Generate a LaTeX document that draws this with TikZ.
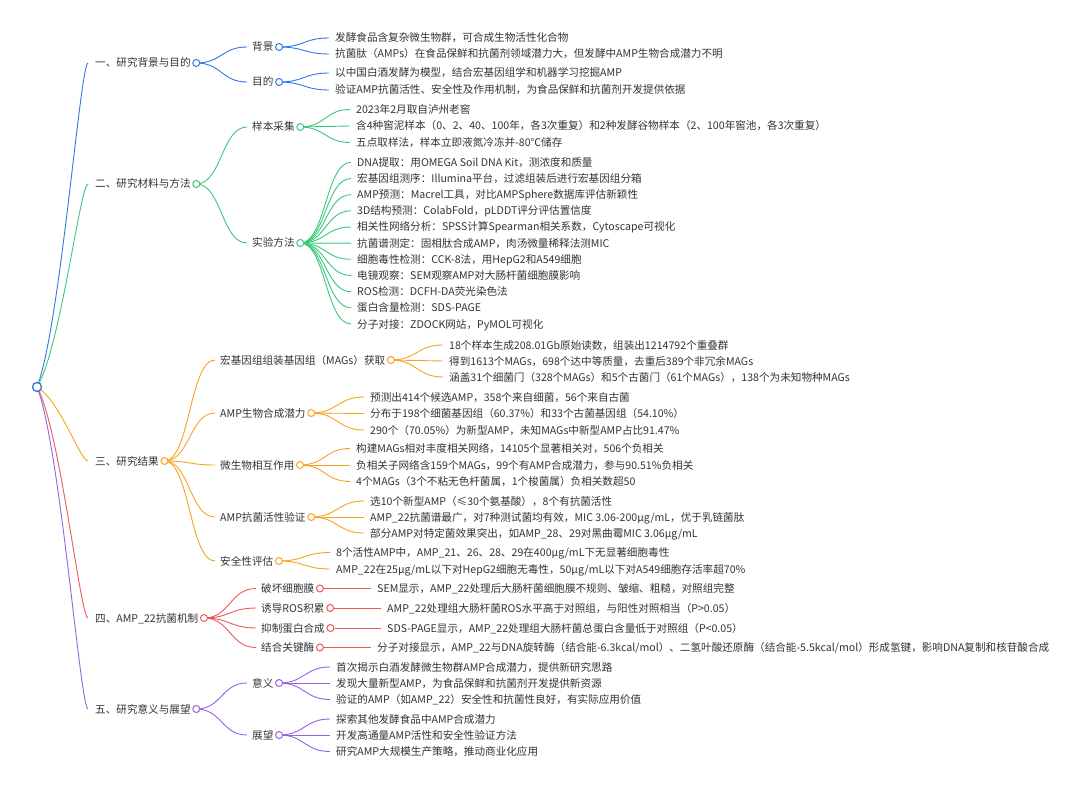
\documentclass[tikz,border=0pt]{standalone}
\usepackage{fontspec}
\setmainfont{Noto Sans CJK SC}
\usetikzlibrary{calc,backgrounds}
\definecolor{cblue}{RGB}{50,118,228}
\definecolor{cgreen}{RGB}{58,200,122}
\definecolor{corange}{RGB}{246,163,32}
\definecolor{cred}{RGB}{236,88,88}
\definecolor{cpurple}{RGB}{150,98,224}
\definecolor{textc}{RGB}{51,51,51}
\newcommand\lnk[3]{\draw[link=#1] let \p1=(#2), \p2=(#3) in (\p1) .. controls ({0.5*\x1+0.5*\x2},\y1) and ({0.5*\x1+0.5*\x2},\y2) .. (\p2);}
\newcommand\rlnk[3]{\draw[link=#1] let \p1=(#2), \p2=(#3) in (\p1) .. controls ({0.55*\x1+0.45*\x2},{0.82*\y1+0.18*\y2}) and ({0.15*\x1+0.85*\x2},\y2) .. (\p2);}
\begin{document}
\begin{tikzpicture}[x=1pt,y=-1pt,
  txt/.style={anchor=west,inner sep=0pt,text height=9.4pt,text depth=1.4pt,font=\fontsize{10.6}{12}\selectfont,text=textc},
  dot/.style={circle,draw=#1,fill=white,line width=1pt,inner sep=0pt,minimum size=7pt},
  rootdot/.style={circle,draw=cblue,fill=white,line width=1.3pt,inner sep=0pt,minimum size=9pt},
  link/.style={draw=#1,line width=0.9pt}]
\useasboundingbox (0,0) rectangle (1080,789);

% root
\node[rootdot] (root) at (37,387) {};

% main branches
\node[txt] (m1) at (95,63) {一、研究背景与目的};
\node[dot=cblue] (c1) at ([xshift=5.5pt]m1.east) {};
\node[txt] (m2) at (95,184) {二、研究材料与方法};
\node[dot=cgreen] (c2) at ([xshift=5.5pt]m2.east) {};
\node[txt] (m3) at (95,461) {三、研究结果};
\node[dot=corange] (c3) at ([xshift=5.5pt]m3.east) {};
\node[txt] (m4) at (95,618) {四、AMP\_22抗菌机制};
\node[dot=cred] (c4) at ([xshift=5.5pt]m4.east) {};
\node[txt] (m5) at (95,709) {五、研究意义与展望};
\node[dot=cpurple] (c5) at ([xshift=5.5pt]m5.east) {};

% ---- branch 1
\node[txt] (s11) at (252,47) {背景};
\node[dot=cblue] (c11) at ([xshift=5.5pt]s11.east) {};
\node[txt] (s12) at (252,82) {目的};
\node[dot=cblue] (c12) at ([xshift=5.5pt]s12.east) {};
\node[txt] (l11a) at (335,38) {发酵食品含复杂微生物群，可合成生物活性化合物};
\node[txt] (l11b) at (335,54) {抗菌肽（AMPs）在食品保鲜和抗菌剂领域潜力大，但发酵中AMP生物合成潜力不明};
\node[txt] (l12a) at (335,73) {以中国白酒发酵为模型，结合宏基因组学和机器学习挖掘AMP};
\node[txt] (l12b) at (335,90) {验证AMP抗菌活性、安全性及作用机制，为食品保鲜和抗菌剂开发提供依据};

% ---- branch 2
\node[txt] (s21) at (252,127) {样本采集};
\node[dot=cgreen] (c21) at ([xshift=5.5pt]s21.east) {};
\node[txt] (s22) at (252,243) {实验方法};
\node[dot=cgreen] (c22) at ([xshift=5.5pt]s22.east) {};
\node[txt] (l21a) at (356,109.5) {2023年2月取自泸州老窖};
\node[txt] (l21b) at (356,126) {含4种窖泥样本（0、2、40、100年，各3次重复）和2种发酵谷物样本（2、100年窖池，各3次重复）};
\node[txt] (l21c) at (356,142.5) {五点取样法，样本立即液氮冷冻并-80℃储存};
\node[txt] (l22a) at (357,162.3) {DNA提取：用OMEGA Soil DNA Kit，测浓度和质量};
\node[txt] (l22b) at (357,178.5) {宏基因组测序：Illumina平台，过滤组装后进行宏基因组分箱};
\node[txt] (l22c) at (357,194.6) {AMP预测：Macrel工具，对比AMPSphere数据库评估新颖性};
\node[txt] (l22d) at (357,210.8) {3D结构预测：ColabFold，pLDDT评分评估置信度};
\node[txt] (l22e) at (357,227.0) {相关性网络分析：SPSS计算Spearman相关系数，Cytoscape可视化};
\node[txt] (l22f) at (357,243.2) {抗菌谱测定：固相肽合成AMP，肉汤微量稀释法测MIC};
\node[txt] (l22g) at (357,259.3) {细胞毒性检测：CCK-8法，用HepG2和A549细胞};
\node[txt] (l22h) at (357,275.5) {电镜观察：SEM观察AMP对大肠杆菌细胞膜影响};
\node[txt] (l22i) at (357,291.7) {ROS检测：DCFH-DA荧光染色法};
\node[txt] (l22j) at (357,307.8) {蛋白含量检测：SDS-PAGE};
\node[txt] (l22k) at (357,324.0) {分子对接：ZDOCK网站，PyMOL可视化};

% ---- branch 3
\node[txt] (s31) at (220,360) {宏基因组组装基因组（MAGs）获取};
\node[dot=corange] (c31) at ([xshift=5.5pt]s31.east) {};
\node[txt] (s32) at (220,413) {AMP生物合成潜力};
\node[dot=corange] (c32) at ([xshift=5.5pt]s32.east) {};
\node[txt] (s33) at (220,465) {微生物相互作用};
\node[dot=corange] (c33) at ([xshift=5.5pt]s33.east) {};
\node[txt] (s34) at (220,517) {AMP抗菌活性验证};
\node[dot=corange] (c34) at ([xshift=5.5pt]s34.east) {};
\node[txt] (s35) at (220,561) {安全性评估};
\node[dot=corange] (c35) at ([xshift=5.5pt]s35.east) {};
\node[txt] (l31a) at (449,345) {18个样本生成208.01Gb原始读数，组装出1214792个重叠群};
\node[txt] (l31b) at (449,361) {得到1613个MAGs，698个达中等质量，去重后389个非冗余MAGs};
\node[txt] (l31c) at (449,377) {涵盖31个细菌门（328个MAGs）和5个古菌门（61个MAGs），138个为未知物种MAGs};
\node[txt] (l32a) at (370,397) {预测出414个候选AMP，358个来自细菌，56个来自古菌};
\node[txt] (l32b) at (370,413.5) {分布于198个细菌基因组（60.37\%）和33个古菌基因组（54.10\%）};
\node[txt] (l32c) at (370,430) {290个（70.05\%）为新型AMP，未知MAGs中新型AMP占比91.47\%};
\node[txt] (l33a) at (356,448.5) {构建MAGs相对丰度相关网络，14105个显著相关对，506个负相关};
\node[txt] (l33b) at (356,465) {负相关子网络含159个MAGs，99个有AMP合成潜力，参与90.51\%负相关};
\node[txt] (l33c) at (356,481.5) {4个MAGs（3个不粘无色杆菌属，1个梭菌属）负相关数超50};
\node[txt] (l34a) at (370,501) {选10个新型AMP（≤30个氨基酸），8个有抗菌活性};
\node[txt] (l34b) at (370,517) {AMP\_22抗菌谱最广，对7种测试菌均有效，MIC 3.06-200μg/mL，优于乳链菌肽};
\node[txt] (l34c) at (370,533) {部分AMP对特定菌效果突出，如AMP\_28、29对黑曲霉MIC 3.06μg/mL};
\node[txt] (l35a) at (336,552.5) {8个活性AMP中，AMP\_21、26、28、29在400μg/mL下无显著细胞毒性};
\node[txt] (l35b) at (336,569) {AMP\_22在25μg/mL以下对HepG2细胞无毒性，50μg/mL以下对A549细胞存活率超70\%};

% ---- branch 4
\node[txt] (s41) at (261,588.5) {破坏细胞膜};
\node[dot=cred] (c41) at ([xshift=5.5pt]s41.east) {};
\node[txt] (s42) at (261,608) {诱导ROS积累};
\node[dot=cred] (c42) at ([xshift=5.5pt]s42.east) {};
\node[txt] (s43) at (261,628) {抑制蛋白合成};
\node[dot=cred] (c43) at ([xshift=5.5pt]s43.east) {};
\node[txt] (s44) at (261,647.5) {结合关键酶};
\node[dot=cred] (c44) at ([xshift=5.5pt]s44.east) {};
\node[txt] (l41) at (377,588.5) {SEM显示，AMP\_22处理后大肠杆菌细胞膜不规则、皱缩、粗糙，对照组完整};
\node[txt] (l42) at (387,608) {AMP\_22处理组大肠杆菌ROS水平高于对照组，与阳性对照相当（P>0.05）};
\node[txt] (l43) at (387,628) {SDS-PAGE显示，AMP\_22处理组大肠杆菌总蛋白含量低于对照组（P<0.05）};
\node[txt] (l44) at (377,647.5) {分子对接显示，AMP\_22与DNA旋转酶（结合能-6.3kcal/mol）、二氢叶酸还原酶（结合能-5.5kcal/mol）形成氢键，影响DNA复制和核苷酸合成};

% ---- branch 5
\node[txt] (s51) at (252,683) {意义};
\node[dot=cpurple] (c51) at ([xshift=5.5pt]s51.east) {};
\node[txt] (s52) at (252,735) {展望};
\node[dot=cpurple] (c52) at ([xshift=5.5pt]s52.east) {};
\node[txt] (l51a) at (336,667) {首次揭示白酒发酵微生物群AMP合成潜力，提供新研究思路};
\node[txt] (l51b) at (336,683) {发现大量新型AMP，为食品保鲜和抗菌剂开发提供新资源};
\node[txt] (l51c) at (336,699.5) {验证的AMP（如AMP\_22）安全性和抗菌性良好，有实际应用价值};
\node[txt] (l52a) at (336,719) {探索其他发酵食品中AMP合成潜力};
\node[txt] (l52b) at (336,735) {开发高通量AMP活性和安全性验证方法};
\node[txt] (l52c) at (336,751.5) {研究AMP大规模生产策略，推动商业化应用};

\begin{scope}[on background layer]
% root links
\rlnk{cblue}{root}{[xshift=-7pt]m1.west}
\rlnk{cgreen}{root}{[xshift=-7pt]m2.west}
\rlnk{corange}{root}{[xshift=-7pt]m3.west}
\rlnk{cred}{root}{[xshift=-7pt]m4.west}
\rlnk{cpurple}{root}{[xshift=-7pt]m5.west}
% branch 1
\lnk{cblue}{c1}{[xshift=-5pt]s11.west}
\lnk{cblue}{c1}{[xshift=-5pt]s12.west}
\lnk{cblue}{c11}{[xshift=-6pt]l11a.west}
\lnk{cblue}{c11}{[xshift=-6pt]l11b.west}
\lnk{cblue}{c12}{[xshift=-6pt]l12a.west}
\lnk{cblue}{c12}{[xshift=-6pt]l12b.west}
% branch 2
\lnk{cgreen}{c2}{[xshift=-5pt]s21.west}
\lnk{cgreen}{c2}{[xshift=-5pt]s22.west}
\lnk{cgreen}{c21}{[xshift=-6pt]l21a.west}
\lnk{cgreen}{c21}{[xshift=-6pt]l21b.west}
\lnk{cgreen}{c21}{[xshift=-6pt]l21c.west}
\foreach \k in {a,b,c,d,e,f,g,h,i,j,k}{\lnk{cgreen}{c22}{[xshift=-6pt]l22\k.west}}
% branch 3
\foreach \k in {1,...,5}{\lnk{corange}{c3}{[xshift=-5pt]s3\k.west}}
\foreach \k in {a,b,c}{\lnk{corange}{c31}{[xshift=-6pt]l31\k.west}}
\foreach \k in {a,b,c}{\lnk{corange}{c32}{[xshift=-6pt]l32\k.west}}
\foreach \k in {a,b,c}{\lnk{corange}{c33}{[xshift=-6pt]l33\k.west}}
\foreach \k in {a,b,c}{\lnk{corange}{c34}{[xshift=-6pt]l34\k.west}}
\foreach \k in {a,b}{\lnk{corange}{c35}{[xshift=-6pt]l35\k.west}}
% branch 4
\foreach \k in {1,...,4}{\lnk{cred}{c4}{[xshift=-5pt]s4\k.west}}
\draw[link=cred] (c41) -- ([xshift=-6pt]l41.west);
\draw[link=cred] (c42) -- ([xshift=-6pt]l42.west);
\draw[link=cred] (c43) -- ([xshift=-6pt]l43.west);
\draw[link=cred] (c44) -- ([xshift=-6pt]l44.west);
% branch 5
\lnk{cpurple}{c5}{[xshift=-5pt]s51.west}
\lnk{cpurple}{c5}{[xshift=-5pt]s52.west}
\foreach \k in {a,b,c}{\lnk{cpurple}{c51}{[xshift=-6pt]l51\k.west}}
\foreach \k in {a,b,c}{\lnk{cpurple}{c52}{[xshift=-6pt]l52\k.west}}
\end{scope}
\end{tikzpicture}
\end{document}
